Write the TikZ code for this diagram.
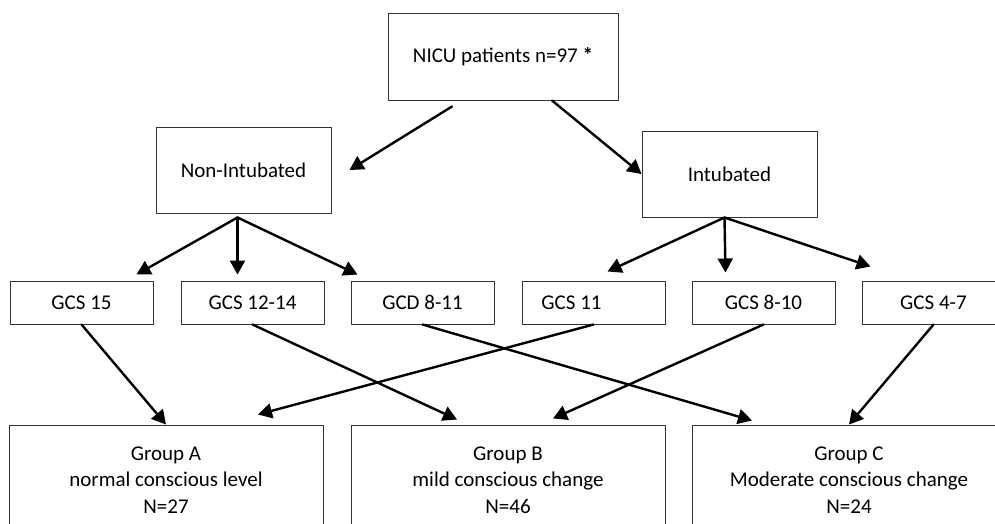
\documentclass[tikz,border=0pt]{standalone}
\usepackage{fontspec}
\setmainfont{Carlito}
\usetikzlibrary{arrows.meta}
\definecolor{boxgray}{rgb}{0.2,0.2,0.2}

\begin{document}
\begin{tikzpicture}[x=1pt,y=-1pt,line cap=round,line join=round,
		box/.style={draw=boxgray,line width=1pt,align=center,inner sep=0pt,font=\fontsize{21}{26.5}\selectfont},
		gcs/.style={box,minimum width=143pt,minimum height=43pt},
		grp/.style={box,minimum width=314pt,minimum height=110pt},
		arr/.style={-{Triangle[length=14pt,width=15pt]},line width=2.4pt}]
					\useasboundingbox (0,0) rectangle (995,523);
					\clip (0,0) rectangle (995,523);
					% top levels
					\node[box,minimum width=230pt,minimum height=87pt] (nicu) at (503,56.5) {NICU patients n=97 \textbf{*}};
					\node[box,minimum width=175pt,minimum height=86pt] (noint) at (243.5,170) {Non-Intubated};
					\node[box,minimum width=175pt,minimum height=86pt] (intub) at (729.5,174) {Intubated};
					% GCS row
					\node[gcs] (g15) at (81.5,302.5) {GCS 15};
					\node[gcs] (g1214) at (252.5,302.5) {GCS 12-14};
					\node[gcs] (g811) at (422.5,302.5) {GCD 8-11};
					\node[gcs] (g11) at (593.5,302.5) {GCS 11\hspace*{44pt}};
					\node[gcs] (g810) at (763.5,302.5) {GCS 8-10};
					\node[gcs] (g47) at (933.5,302.5) {GCS 4-7};
					% groups
					\node[grp] (grpA) at (166,480) {Group A\\normal conscious level\\N=27};
					\node[grp] (grpB) at (508,480) {Group B\\mild conscious change\\N=46};
					\node[grp] (grpC) at (849,480) {Group C\\Moderate conscious change\\N=24};
					% arrows
					\draw[arr] ([xshift=-51pt,yshift=-6pt]nicu.south) -- ([xshift=18pt]noint.east);
					\draw[arr] ([xshift=49pt]nicu.south) -- (intub.west);
					\foreach \n/\dx/\dy in {g15/55/6,g1214/-15/6,g811/-65/6}
					\draw[arr] ([xshift=-6pt,yshift=-4pt]noint.south) -- ([xshift=\dx pt,yshift=\dy pt]\n.north);
					\foreach \n/\dx/\dy in {g11/14/9,g810/-38/8,g47/-63/14}
					\draw[arr] ([xshift=-5pt]intub.south) -- ([xshift=\dx pt,yshift=\dy pt]\n.north);
					\draw[arr] (g15.south) -- (grpA.north);
					\draw[arr] (g11.south) -- ([xshift=92pt,yshift=10pt]grpA.north);
					\draw[arr] (g1214.south) -- ([xshift=-51pt,yshift=5pt]grpB.north);
					\draw[arr] (g810.south) -- ([xshift=45pt,yshift=6pt]grpB.north);
					\draw[arr] (g811.south) -- ([xshift=-97pt,yshift=4pt]grpC.north);
					\draw[arr] (g47.south) -- (grpC.north);
				\end{tikzpicture}
\end{document}
